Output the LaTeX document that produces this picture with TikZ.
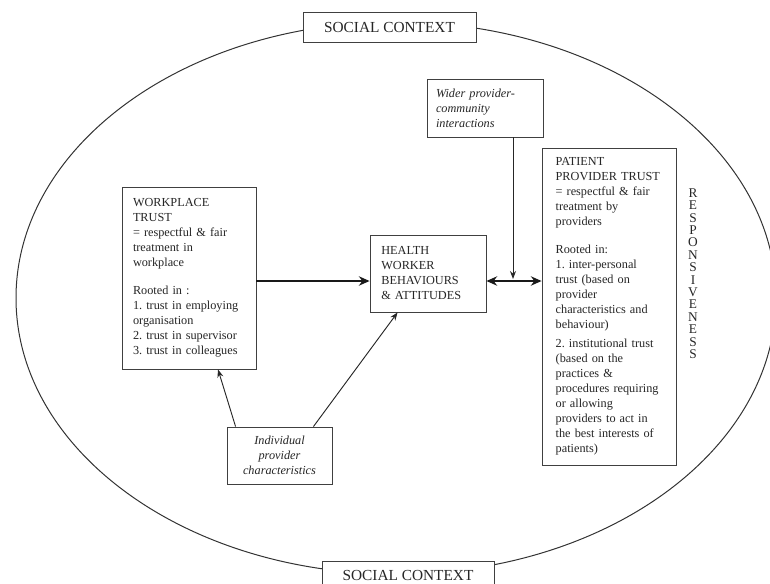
\documentclass[tikz,border=0pt]{standalone}
\usepackage{fontspec}
\setmainfont{Liberation Serif}
\usetikzlibrary{arrows.meta,calc}
\frenchspacing
\begin{document}
\begin{tikzpicture}[x=0.75pt,y=-0.75pt,
  box/.style={draw=black!75, line width=0.65pt, fill=white, text=black!85,
    font=\fontsize{9.2}{11.25}\selectfont, align=left, inner ysep=0pt},
  titlebox/.style={box, font=\fontsize{11.5}{13}\selectfont, align=center},
  thinarrow/.style={draw=black!85, line width=0.7pt, -{Stealth[length=6pt,width=4.5pt]}},
  thickarrow/.style={draw=black!90, line width=2pt, -{Stealth[length=8pt,width=7pt]}},
  thickdouble/.style={draw=black!90, line width=2pt, {Stealth[length=8pt,width=7pt]}-{Stealth[length=8pt,width=7pt]}},
]
\useasboundingbox (0,0) rectangle (770,583);
\draw[black!80, line width=0.75pt] (396,298) ellipse [x radius=285pt, y radius=207pt];

\node[titlebox, minimum width=129.75pt, minimum height=22.5pt] (top) at (389.5,27) {SOCIAL CONTEXT};
\node[titlebox, minimum width=129pt, minimum height=21.75pt] (bottom) at (408,575.5) {SOCIAL CONTEXT};

\node[box, text width=84pt, inner xsep=8.25pt, minimum height=136.5pt] (work) at (189,278)
 {WORKPLACE\\TRUST\\= respectful \& fair\\treatment in\\workplace\\[10pt]Rooted in :\\1. trust in employing\\organisation\\2. trust in supervisor\\3. trust in colleagues};

\node[box, text width=70pt, inner xsep=8.5pt, minimum height=57.75pt] (health) at (428,273.5)
 {HEALTH\\WORKER\\BEHAVIOURS\\\& ATTITUDES};

\node[box, text width=80pt, inner xsep=10.25pt, minimum height=237.75pt] (patient) at (609,306.5)
 {PATIENT\\PROVIDER TRUST\\= respectful \& fair\\treatment by\\providers\\[10pt]Rooted in:\\1. inter-personal\\trust (based on\\provider\\characteristics and\\behaviour)\\[3pt]2. institutional trust\\(based on the\\practices \&\\procedures requiring\\or allowing\\providers to act in\\the best interests of\\patients)};

\node[box, text width=73.5pt, inner xsep=6.75pt, minimum height=43.5pt, font=\fontsize{9.2}{11.25}\selectfont\itshape] (wider) at (485,108)
 {Wider provider-\\community\\interactions};

\node[box, align=center, minimum width=78.75pt, minimum height=42.75pt, font=\fontsize{9.2}{11.25}\selectfont\itshape] (indiv) at (279.5,455.5)
 {Individual\\provider\\characteristics};

\node[text=black!85, font=\fontsize{10}{9.3}\selectfont, align=center, inner sep=0pt] (resp) at (693,273.5)
 {R\\E\\S\\P\\O\\N\\S\\I\\V\\E\\N\\E\\S\\S};

\coordinate (ay) at (0,281);
\coordinate (jx) at (513,281);

\draw[thickarrow] (work.east |- ay) -- (health.west |- ay);
\draw[thickdouble] (health.east |- ay) -- (patient.west |- ay);
\draw[thinarrow] (wider.south -| jx) -- ([yshift=1.5pt]jx);
\draw[thinarrow] ([xshift=6.75pt]indiv.north west) -- ([xshift=21.75pt]work.south);
\draw[thinarrow] ([xshift=-14.25pt]indiv.north east) -- ([xshift=21pt]health.south west);
\end{tikzpicture}
\end{document}
